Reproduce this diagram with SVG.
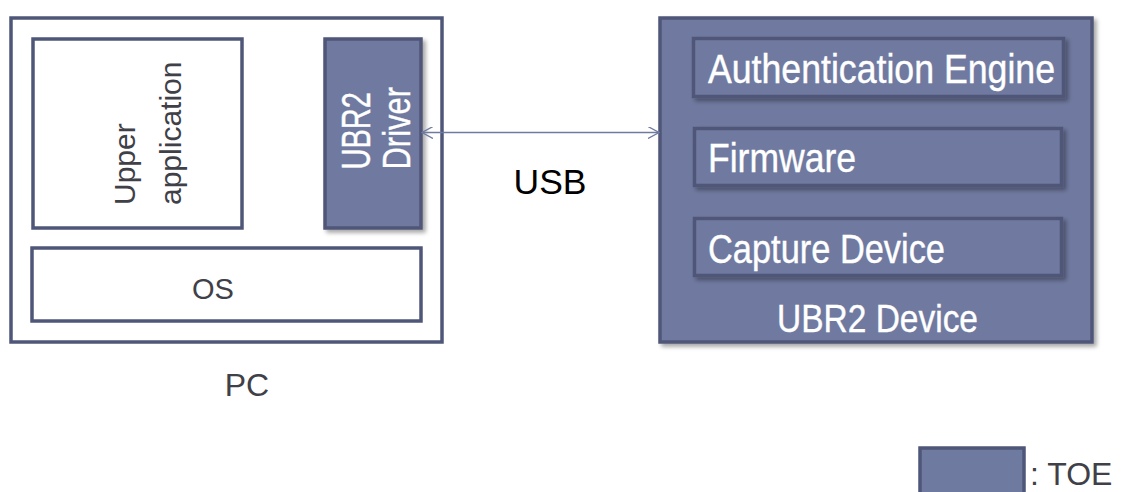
<svg xmlns="http://www.w3.org/2000/svg" width="1122" height="492" viewBox="0 0 1122 492">
  <style>
    .box { fill: #ffffff; stroke: #4f5778; stroke-width: 3.5; }
    .toe { fill: #6f7aa0; stroke: #4f5778; stroke-width: 3.5; }
    .dark { font-family: "Liberation Sans", Arial, sans-serif; fill: #404048; }
    .white { font-family: "Liberation Sans", Arial, sans-serif; fill: #ffffff; stroke: #ffffff; stroke-width: 0.4; }
    .conn { stroke: #6f7aa0; stroke-width: 1.3; fill: none; }
  </style>
  <defs>
    <filter id="shadow" x="-10%" y="-10%" width="130%" height="130%">
      <feDropShadow dx="3" dy="3" stdDeviation="2" flood-color="#000000" flood-opacity="0.35"/>
    </filter>
    <marker id="chev" viewBox="0 0 12 12" refX="11" refY="6" markerWidth="12" markerHeight="12" markerUnits="userSpaceOnUse" orient="auto-start-reverse">
      <path d="M0,0 L11,6 L0,12" fill="none" stroke="#6f7aa0" stroke-width="1.3"/>
    </marker>
  </defs>

  <g id="pc">
    <rect class="box" x="11" y="18" width="431" height="324"/>
    <text class="dark" x="247" y="396" font-size="32" text-anchor="middle">PC</text>
  </g>

  <g id="upper-application">
    <rect class="box" x="33" y="39" width="209" height="189"/>
    <text class="dark" font-size="30" transform="translate(134.5,205) rotate(-90)">Upper</text>
    <text class="dark" font-size="30" transform="translate(180.5,205) rotate(-90)">application</text>
  </g>

  <g id="ubr2-driver">
    <rect class="toe" x="325" y="39" width="96" height="189" filter="url(#shadow)"/>
    <text class="white" font-size="40" textLength="77.5" lengthAdjust="spacingAndGlyphs" transform="translate(369.5,169.5) rotate(-90)">UBR2</text>
    <text class="white" font-size="38" textLength="82.5" lengthAdjust="spacingAndGlyphs" transform="translate(409.5,169.5) rotate(-90)">Driver</text>
  </g>

  <g id="os">
    <rect class="box" x="32" y="248" width="389" height="73"/>
    <text class="dark" x="213" y="299" font-size="29" text-anchor="middle">OS</text>
  </g>

  <g id="ubr2-device">
    <rect class="toe" x="660" y="18" width="432" height="324" filter="url(#shadow)"/>
    <text class="white" x="777" y="332" font-size="38" textLength="201" lengthAdjust="spacingAndGlyphs">UBR2 Device</text>
  </g>

  <g id="authentication-engine">
    <rect class="toe" x="693.5" y="38.5" width="370" height="58" filter="url(#shadow)"/>
    <text class="white" x="708" y="83" font-size="40" textLength="347" lengthAdjust="spacingAndGlyphs">Authentication Engine</text>
  </g>

  <g id="firmware">
    <rect class="toe" x="694.5" y="128.5" width="367" height="57" filter="url(#shadow)"/>
    <text class="white" x="708" y="172" font-size="40" textLength="148" lengthAdjust="spacingAndGlyphs">Firmware</text>
  </g>

  <g id="capture-device">
    <rect class="toe" x="694.5" y="218.5" width="367" height="57" filter="url(#shadow)"/>
    <text class="white" x="708" y="263" font-size="40" textLength="237" lengthAdjust="spacingAndGlyphs">Capture Device</text>
  </g>

  <g id="connectors">
    <line class="conn" x1="422" y1="132.5" x2="659" y2="132.5" marker-start="url(#chev)" marker-end="url(#chev)"/>
    <text x="550" y="194" font-family="Liberation Sans, Arial, sans-serif" font-size="35.5" fill="#000000" text-anchor="middle">USB</text>
  </g>

  <g id="legend">
    <rect class="toe" x="920" y="448" width="104" height="60"/>
    <text class="dark" x="1030" y="485" font-size="32">: TOE</text>
  </g>
</svg>
